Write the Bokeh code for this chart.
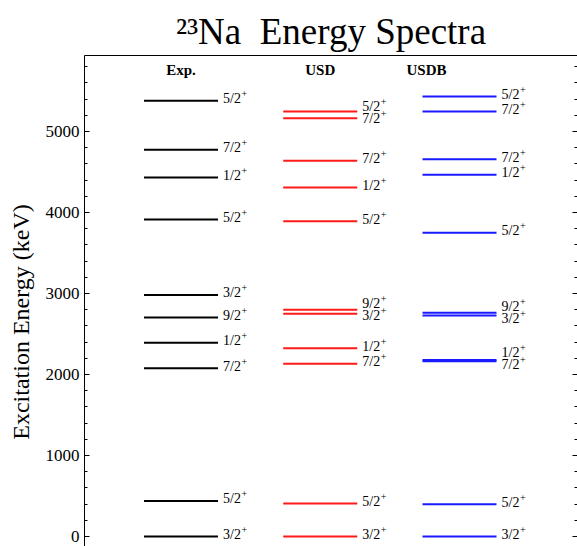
from bokeh.plotting import figure
from bokeh.models import (Range1d, LinearAxis, SingleIntervalTicker, ColumnDataSource, Title,
                          FixedTicker, CustomJSTickFormatter)
from bokeh.core.properties import value
from bokeh.embed import file_html
from bokeh.resources import INLINE

# ---------------- data ----------------
title_text = "\u00b2\u00b3Na\u00a0\u00a0Energy Spectra"
y_label = "Excitation Energy (keV)"
col_names = ["Exp.", "USD", "USDB"]
col_colors = ["#000000", "#ff1a1a", "#1a1aff"]

exp_E = [0, 440, 2076, 2391, 2704, 2982, 3914, 4432, 4775, 5380]
exp_J = ["3/2", "5/2", "7/2", "1/2", "9/2", "3/2", "5/2", "1/2", "7/2", "5/2"]

usd_E = [0, 407, 2132, 2325, 2749, 2798, 3893, 4309, 4638, 5164, 5247]
usd_J = ["3/2", "5/2", "7/2", "1/2", "3/2", "9/2", "5/2", "1/2", "7/2", "7/2", "5/2"]

usdb_E = [0, 399, 2165, 2180, 2728, 2761, 3749, 4466, 4658, 5247, 5432]
usdb_J = ["3/2", "5/2", "7/2", "1/2", "3/2", "9/2", "5/2", "1/2", "7/2", "7/2", "5/2"]

parity = "+"

# ---------------- layout ----------------
W, H = 577, 546
LEFT, TOP = 84, 55
frame_h = H - TOP
frame_w = W - LEFT
Y0, Y1 = -123, 5938
px_per_keV = frame_h / (Y1 - Y0)
col_x = [1.0, 2.0, 3.0]
header_x = [1.0, 2.0, 2.763]
px_per_unit = 139.25
X0 = 1.0 - 96.5 / px_per_unit
X1 = X0 + frame_w / px_per_unit
half_w = 37 / px_per_unit
header_y = 5753

SERIF = "Liberation Serif"
LBL_PX = 14

p = figure(width=W, height=H, output_backend="svg", toolbar_location=None,
           x_range=Range1d(X0, X1), y_range=Range1d(Y0, Y1),
           min_border_left=LEFT, min_border_top=TOP, min_border_right=0,
           min_border_bottom=0, x_axis_location=None, y_axis_location=None)
p.outline_line_color = None
p.xgrid.visible = False
p.ygrid.visible = False
p.background_fill_color = "white"
p.border_fill_color = "white"

# trailing no-break spaces shift the rotated label's visible centre downwards
left = LinearAxis(ticker=SingleIntervalTicker(interval=1000, num_minor_ticks=5),
                  axis_label=y_label + "\u00a0" * 7)
left.axis_label_text_font = SERIF
left.axis_label_text_font_size = "24px"
left.axis_label_text_font_style = "normal"
left.axis_label_text_color = "black"
left.axis_label_standoff = 9
left.major_label_text_font = SERIF
left.major_label_text_font_size = "17px"
left.major_label_text_color = "black"
left.major_label_standoff = 5
left.major_tick_in = 5
left.major_tick_out = 0
left.minor_tick_in = 3
left.minor_tick_out = 0
left.axis_line_color = "black"
p.add_layout(left, "left")

right = LinearAxis(ticker=SingleIntervalTicker(interval=1000, num_minor_ticks=5),
                   formatter=CustomJSTickFormatter(code="return ''"))
right.major_label_standoff = 0
right.major_tick_in = 5
right.major_tick_out = 0
right.minor_tick_in = 3
right.minor_tick_out = 0
right.axis_line_color = None
p.add_layout(right, "right")

top = LinearAxis(ticker=FixedTicker(ticks=[], minor_ticks=[]))
top.major_label_standoff = 0
top.major_tick_in = 0
top.major_tick_out = 0
top.minor_tick_in = 0
top.minor_tick_out = 0
top.axis_line_color = "black"
p.add_layout(top, "above")

p.add_layout(Title(text=title_text, text_font=SERIF, text_font_size="37px", text_color="black",
                   text_font_style="normal", align="center", standoff=7, offset=4), "above")


def label_positions(E, raise_px=2.0, gap_px=12.0):
    raise_k = raise_px / px_per_keV
    gap = gap_px / px_per_keV
    order = sorted(range(len(E)), key=lambda i: E[i])
    pos = [E[i] + raise_k for i in order]
    for _ in range(20):
        groups = [[0]]
        for k in range(1, len(pos)):
            if pos[k] - pos[groups[-1][-1]] < gap - 1e-6:
                groups[-1].append(k)
            else:
                groups.append([k])
        changed = False
        for g in groups:
            if len(g) > 1:
                m = sum(E[order[k]] + raise_k for k in g) / len(g)
                n = len(g)
                for j, k in enumerate(g):
                    newv = m + (j - (n - 1) / 2) * gap
                    if abs(newv - pos[k]) > 1e-6:
                        pos[k] = newv
                        changed = True
        if not changed:
            break
    out = [0.0] * len(E)
    for k, i in enumerate(order):
        out[i] = pos[k]
    return out


for cx, E, J, color in zip(col_x, [exp_E, usd_E, usdb_E], [exp_J, usd_J, usdb_J], col_colors):
    src = ColumnDataSource(dict(
        x0=[cx - half_w] * len(E), x1=[cx + half_w] * len(E), y=E,
        lx=[cx + half_w] * len(E), ly=label_positions(E), j=J, par=[parity] * len(E)))
    p.segment(x0="x0", y0="y", x1="x1", y1="y", source=src, line_color=color, line_width=2)
    p.text(x="lx", y="ly", text="j", source=src, x_offset=5, text_font=value(SERIF),
           text_font_size=f"{LBL_PX}px", text_baseline="middle", text_align="left", text_color="black")
    p.text(x="lx", y="ly", text="par", source=src, x_offset=5 + 1.278 * LBL_PX + 0.5, y_offset=-5,
           text_font=value(SERIF), text_font_size="10px", text_baseline="middle",
           text_align="left", text_color="black")

hsrc = ColumnDataSource(dict(x=header_x, y=[header_y] * 3, t=col_names))
p.text(x="x", y="y", text="t", source=hsrc, text_font=value(SERIF), text_font_size="15px",
       text_font_style="bold", text_align="center", text_baseline="middle", text_color="black")

open("out.html", "w").write(file_html(p, INLINE))
